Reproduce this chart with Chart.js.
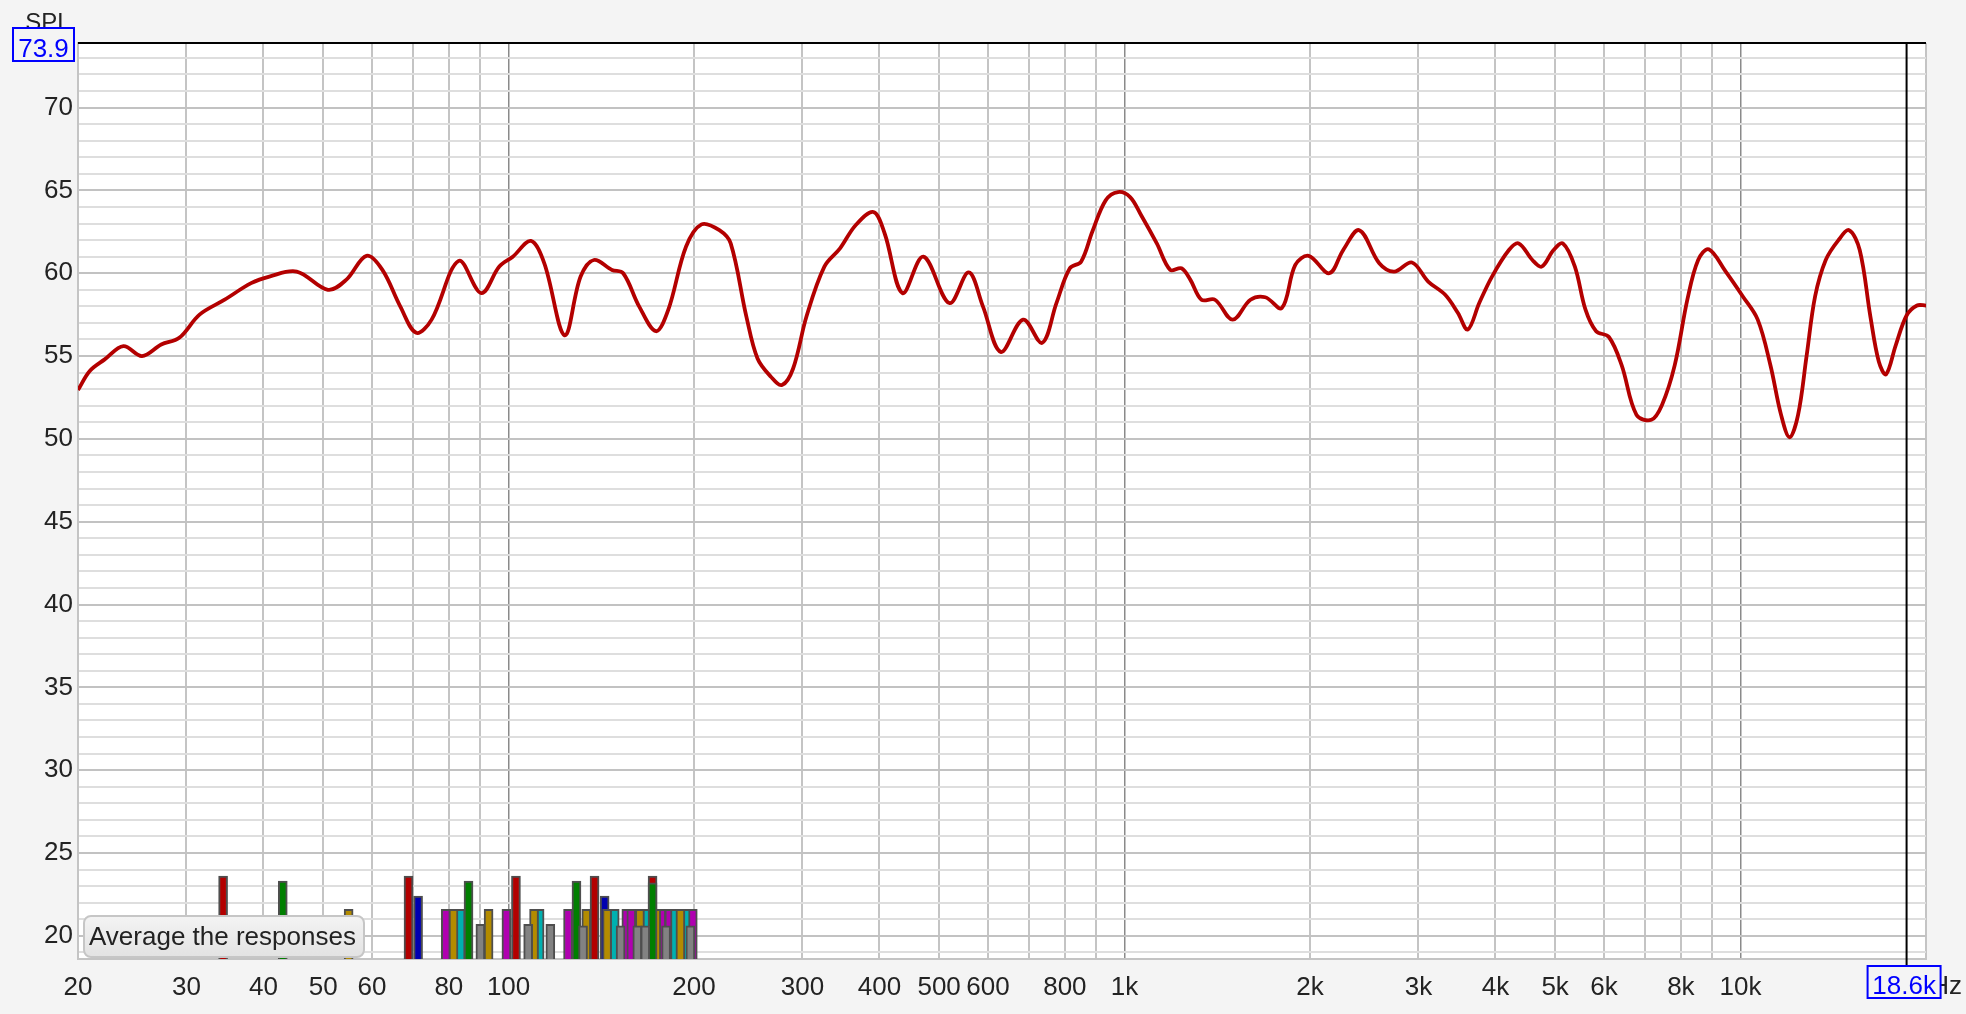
<!DOCTYPE html>
<html>
<head>
<meta charset="utf-8">
<title>SPL</title>
<script src="https://cdn.jsdelivr.net/npm/chart.js@4.4.0/dist/chart.umd.min.js"></script>
<style>
    html, body {
        margin: 0;
        padding: 0;
        background: #f4f4f4;
    }
    #wrap {
        position: relative;
        width: 1966px;
        height: 1014px;
    }
    #frequency-chart {
        display: block;
    }
    #average-button {
        position: absolute;
        left: 83px;
        top: 915px;
        width: 282px;
        height: 43px;
        box-sizing: border-box;
        border: 2px solid #c6c6c6;
        border-radius: 8px;
        background: linear-gradient(#f3f3f3, #e3e3e3);
        font: 26px "Liberation Sans", Arial, sans-serif;
        color: #222;
        padding: 0 0 0 4px;
        text-align: left;
        white-space: nowrap;
    }
</style>
</head>
<body>
<div id="wrap">
    <canvas id="frequency-chart" width="1966" height="1014"></canvas>
    <button id="average-button">Average the responses</button>
</div>
<script>
    // measured response (Hz / dB SPL)
    const freqHz = [
        20, 20.9, 22.1, 23.7, 25.4, 27.3, 29.2, 31.5, 34.6, 38.2,
        40.9, 45.3, 50.9, 54.5, 58.8, 62.4, 66.7, 70.8, 75.0, 83.0,
        90.3, 96.6, 101.6, 108.7, 114.3, 123.3, 130.9, 137.6, 147.2, 153.5,
        162.9, 173.5, 181.7, 194.1, 205.7, 219.9, 229.4, 243.2, 253.6, 266.6,
        277.9, 289.7, 304.6, 325.6, 345.2, 365.9, 391.2, 407.9, 436, 471.4,
        519.5, 558.4, 588.9, 629.5, 684.3, 734.9, 775.2, 815, 850, 886.3,
        931.8, 976, 1021, 1064, 1128, 1186, 1237, 1279, 1333, 1402,
        1498, 1601, 1692, 1800, 1893, 1990, 2150, 2264, 2405, 2591,
        2739, 2928, 3111, 3315, 3477, 3607, 3765, 3949, 4207, 4364,
        4592, 4755, 4971, 5148, 5383, 5601, 5828, 6113, 6411, 6777,
        7164, 7455, 7819, 8201, 8534, 8879, 9461, 10086, 10662, 11181,
        11635, 12011, 12398, 12799, 13213, 13748, 14419, 15004, 15611, 16244,
        16769, 17227, 17860, 18600, 19340, 20000
    ];
    const splDb = [
        52.95, 54.1, 54.8, 55.6, 55.0, 55.7, 56.1, 57.5, 58.4, 59.4,
        59.8, 60.1, 59.0, 59.6, 61.05, 60.2, 58.0, 56.4, 57.2, 60.75,
        58.8, 60.4, 61.0, 61.95, 60.6, 56.25, 59.8, 60.8, 60.2, 60.0,
        58.0, 56.5, 57.8, 61.6, 62.95, 62.6, 61.8, 57.4, 54.85, 53.75,
        53.25, 54.25, 57.4, 60.4, 61.5, 62.9, 63.7, 62.4, 58.8, 61.0,
        58.2, 60.05, 58.0, 55.25, 57.2, 55.8, 58.2, 60.3, 60.7, 62.5,
        64.4, 64.9, 64.6, 63.5, 61.8, 60.2, 60.3, 59.6, 58.4, 58.4,
        57.2, 58.4, 58.55, 57.9, 60.5, 61.05, 60.0, 61.4, 62.6, 60.6,
        60.1, 60.65, 59.5, 58.7, 57.6, 56.6, 58.2, 59.8, 61.4, 61.8,
        60.8, 60.4, 61.4, 61.8, 60.4, 57.8, 56.5, 56.15, 54.45, 51.45,
        51.15, 52.05, 54.45, 58.45, 60.8, 61.45, 60.1, 58.6, 57.2, 54.45,
        51.45, 50.1, 51.45, 55.0, 58.6, 60.8, 62.0, 62.6, 61.4, 57.4,
        54.65, 53.9, 55.65, 57.45, 58.05, 58.05
    ];

    // markers along the bottom, one list per colour
    const grayBarFreqs = [90.0, 107.6, 116.9, 132.1, 152.0, 161.8, 166.7, 180.2, 197.3];
    const grayBarLevels = [20.7, 20.7, 20.7, 20.6, 20.6, 20.6, 20.6, 20.6, 20.6];
    const greenBarFreqs = [43.0, 86.1, 128.9, 171.3];
    const greenBarLevels = [23.3, 23.3, 23.3, 23.2];
    const goldBarFreqs = [55.0, 81.4, 92.8, 110.0, 133.7, 144.5, 163.4, 173.7, 190.1];
    const goldBarLevels = [21.6, 21.6, 21.6, 21.6, 21.6, 21.6, 21.6, 21.6, 21.6];
    const cyanBarFreqs = [83.6, 112.3, 148.7, 167.8, 186.3, 193.8];
    const cyanBarLevels = [21.6, 21.6, 21.6, 21.6, 21.6, 21.6];
    const magentaBarFreqs = [79.1, 99.2, 124.9, 155.3, 158.2, 177.0, 182.4, 199.1];
    const magentaBarLevels = [21.6, 21.6, 21.6, 21.6, 21.6, 21.6, 21.6, 21.6];
    const blueBarFreqs = [71.3, 143.2];
    const blueBarLevels = [22.4, 22.4];
    const redBarFreqs = [34.4, 68.8, 102.8, 137.9, 171.3];
    const redBarLevels = [23.6, 23.6, 23.6, 23.6, 23.6];

    const xMin = 20;
    const xMax = 20000;
    const yMin = 18.6;
    const yMax = 73.9;
    const cursorFreq = 18600;
    const cursorLabel = '18.6k';
    const yMaxLabel = '73.9';
    const yTitle = 'SPL';
    const xUnit = 'Hz';

    const xGridValues = [
        20, 30, 40, 50, 60, 70, 80, 90,
        100, 200, 300, 400, 500, 600, 700, 800, 900,
        1000, 2000, 3000, 4000, 5000, 6000, 7000, 8000, 9000,
        10000, 20000
    ];
    const xDecadeValues = [100, 1000, 10000];
    const xLabelValues = [20, 30, 40, 50, 60, 80, 100, 200, 300, 400, 500, 600, 800,
        1000, 2000, 3000, 4000, 5000, 6000, 8000, 10000];
    const xLabelTexts = ['20', '30', '40', '50', '60', '80', '100', '200', '300', '400', '500', '600', '800',
        '1k', '2k', '3k', '4k', '5k', '6k', '8k', '10k'];
    const yLabelValues = [20, 25, 30, 35, 40, 45, 50, 55, 60, 65, 70];

    const FONT = '"Liberation Sans", Arial, sans-serif';
    const TEXT = '#232323';

    const toPoints = (xs, ys) => xs.map((x, i) => ({x: x, y: ys[i]}));

    const barDataset = (xs, ys, color) => ({
        type: 'bar',
        data: toPoints(xs, ys),
        backgroundColor: color,
        borderColor: '#4e4e4e',
        borderWidth: 2,
        barThickness: 9,
        grouped: false
    });

    const chartDecor = {
        id: 'chartDecor',
        beforeDraw(chart) {
            const {ctx, chartArea: a} = chart;
            ctx.save();
            ctx.fillStyle = '#ffffff';
            ctx.fillRect(a.left, a.top, a.right - a.left, a.bottom - a.top);
            ctx.restore();
        },
        afterDraw(chart) {
            const {ctx, chartArea: a, scales} = chart;
            ctx.save();

            ctx.strokeStyle = '#000';
            ctx.lineWidth = 2;
            ctx.beginPath();
            ctx.moveTo(a.left, a.top);
            ctx.lineTo(a.right, a.top);
            ctx.stroke();

            ctx.fillStyle = TEXT;
            ctx.textAlign = 'center';
            ctx.textBaseline = 'alphabetic';
            ctx.font = '24px ' + FONT;
            ctx.fillText(yTitle, 48, 30);

            ctx.textAlign = 'right';
            ctx.font = '26px ' + FONT;
            ctx.fillText(xUnit, 1962, 994);

            // y max box
            const yBoxRight = a.left - 4;
            drawValueBox(ctx, yMaxLabel, yBoxRight - 61, a.top - 15, 61, 33);

            // cursor box
            const cx = scales.x.getPixelForValue(cursorFreq);
            ctx.strokeStyle = '#000';
            ctx.lineWidth = 2;
            ctx.beginPath();
            ctx.moveTo(cx, a.bottom);
            ctx.lineTo(cx, a.bottom + 8);
            ctx.stroke();
            drawValueBox(ctx, cursorLabel, cx - 39, a.bottom + 7, 73, 32);

            ctx.restore();
        }
    };

    function drawValueBox(ctx, text, x, y, w, h) {
        ctx.fillStyle = '#f4f4f4';
        ctx.fillRect(x, y, w, h);
        ctx.strokeStyle = '#0000ff';
        ctx.lineWidth = 2;
        ctx.strokeRect(x, y, w, h);
        ctx.fillStyle = '#0000ff';
        ctx.font = '26px ' + FONT;
        ctx.textAlign = 'center';
        ctx.textBaseline = 'alphabetic';
        ctx.fillText(text, x + w / 2, y + h - 4);
    }

    const chart = new Chart(document.getElementById('frequency-chart').getContext('2d'), {
        type: 'line',
        data: {
            datasets: [
                {
                    data: toPoints(freqHz, splDb),
                    borderColor: '#b30000',
                    borderWidth: 3.8,
                    pointRadius: 0,
                    fill: false,
                    tension: 0.35
                },
                {
                    data: toPoints([cursorFreq, cursorFreq], [yMin, yMax]),
                    borderColor: '#000000',
                    borderWidth: 2,
                    pointRadius: 0,
                    fill: false
                },
                barDataset(grayBarFreqs, grayBarLevels, '#828282'),
                barDataset(greenBarFreqs, greenBarLevels, '#007f00'),
                barDataset(goldBarFreqs, goldBarLevels, '#b38b00'),
                barDataset(cyanBarFreqs, cyanBarLevels, '#00b0b0'),
                barDataset(magentaBarFreqs, magentaBarLevels, '#b000b0'),
                barDataset(blueBarFreqs, blueBarLevels, '#0000b0'),
                barDataset(redBarFreqs, redBarLevels, '#b30000')
            ]
        },
        options: {
            responsive: false,
            devicePixelRatio: 1,
            animation: false,
            layout: {
                padding: {top: 43, right: 40, bottom: 0, left: 0}
            },
            plugins: {
                legend: {display: false},
                tooltip: {enabled: false}
            },
            scales: {
                x: {
                    type: 'logarithmic',
                    min: xMin,
                    max: xMax,
                    offset: false,
                    afterBuildTicks: (axis) => {
                        axis.ticks = xGridValues.map(value => ({value: value}));
                    },
                    afterFit: (scale) => {
                        scale.height = 55;
                    },
                    ticks: {
                        autoSkip: false,
                        maxRotation: 0,
                        minRotation: 0,
                        padding: 13,
                        color: TEXT,
                        font: {family: FONT, size: 26},
                        callback: (value) => {
                            const i = xLabelValues.indexOf(value);
                            return i >= 0 ? xLabelTexts[i] : '';
                        }
                    },
                    grid: {
                        offset: false,
                        drawTicks: false,
                        color: (ctx) => xDecadeValues.includes(ctx.tick && ctx.tick.value) ? '#8a8a8a' : '#c4c4c4',
                        lineWidth: (ctx) => xDecadeValues.includes(ctx.tick && ctx.tick.value) ? 1.5 : 2
                    },
                    border: {color: '#c4c4c4', width: 2}
                },
                y: {
                    type: 'linear',
                    min: yMin,
                    max: yMax,
                    beginAtZero: false,
                    afterBuildTicks: (axis) => {
                        const ticks = [];
                        for (let v = Math.ceil(yMin); v <= Math.floor(yMax); v++) {
                            ticks.push({value: v});
                        }
                        axis.ticks = ticks;
                    },
                    afterFit: (scale) => {
                        scale.width = 78;
                    },
                    ticks: {
                        autoSkip: false,
                        padding: 5,
                        color: TEXT,
                        font: {family: FONT, size: 26},
                        callback: (value) => yLabelValues.includes(value) ? String(value) : ''
                    },
                    grid: {
                        drawTicks: false,
                        color: (ctx) => yLabelValues.includes(ctx.tick && ctx.tick.value) ? '#c2c2c2' : '#dedede',
                        lineWidth: 2
                    },
                    border: {color: '#c4c4c4', width: 2}
                }
            }
        },
        plugins: [chartDecor]
    });
</script>
</body>
</html>
